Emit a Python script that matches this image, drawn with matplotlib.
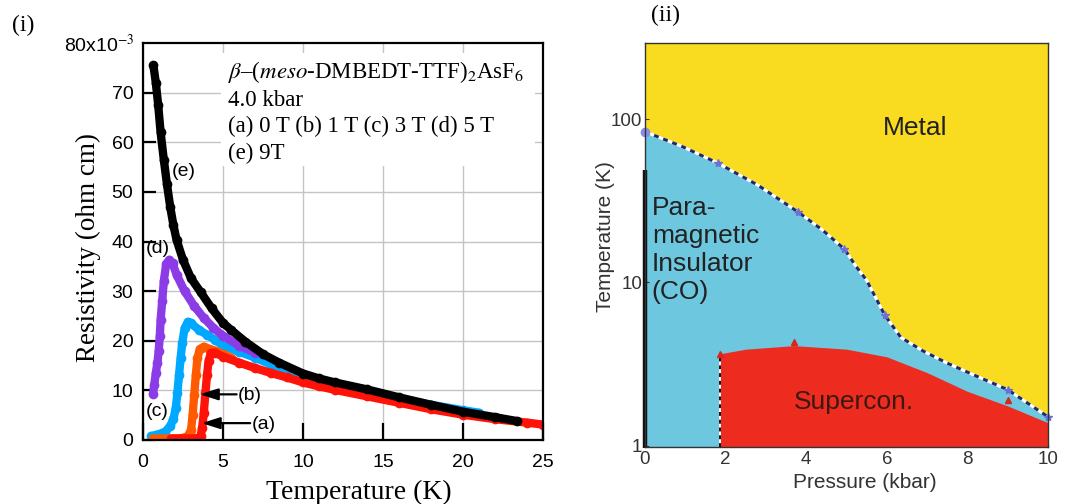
import matplotlib
matplotlib.use("Agg")
import matplotlib.pyplot as plt
from matplotlib.patches import Rectangle
import numpy as np

plt.rcParams['mathtext.fontset'] = 'stix'

# ---------------- Panel (i) data: resistivity vs temperature ----------------
T_a = [1.75, 2.3, 2.7, 3.1, 3.45, 3.6, 3.7, 3.8, 3.9, 4.0, 4.1, 4.25, 4.5, 5.0, 6.0, 7.0, 8.0,
       9.0, 10, 11, 12, 14, 16, 18, 20, 22, 24, 25]
R_a = [0.3, 0.3, 0.3, 0.3, 0.4, 0.8, 2.5, 5.5, 9.5, 13.0, 16.0, 17.5, 17.6, 16.8, 15.6, 14.5, 13.5,
       12.6, 11.6, 10.8, 10.1, 8.8, 7.5, 6.2, 5.1, 4.2, 3.5, 3.1]

T_b = [0.6, 1.0, 1.5, 2.0, 2.5, 2.8, 3.0, 3.1, 3.2, 3.3, 3.4, 3.55, 3.8, 4.1, 4.5, 5.0, 5.5]
R_b = [0.3, 0.3, 0.3, 0.3, 0.4, 0.8, 2.0, 5.0, 9.0, 13.0, 16.5, 18.3, 18.8, 18.4, 18.0, 17.3, 16.6]

T_c = [0.5, 0.8, 1.1, 1.4, 1.7, 1.9, 2.05, 2.15, 2.25, 2.35, 2.45, 2.6, 2.8, 3.0, 3.5, 4.0,
       4.5, 5.0, 6.0, 7.0, 8.0, 10, 12, 14, 16, 18, 20, 21]
R_c = [0.8, 1.0, 1.3, 1.7, 2.8, 4.2, 6.5, 9.5, 13.0, 16.5, 19.5, 22.5, 23.8, 23.5, 22.2, 21.2,
       20.2, 19.0, 17.8, 16.6, 15.2, 13.1, 11.3, 9.9, 8.3, 7.1, 6.0, 5.5]

T_d = [0.62, 0.7, 0.8, 0.9, 0.98, 1.05, 1.1, 1.2, 1.3, 1.45, 1.65, 1.85, 2.1, 2.6, 3.2, 3.8,
       4.4, 5.0, 6.0, 7.0]
R_d = [9.3, 11.0, 13.5, 15.5, 18.0, 21.0, 24.2, 28.0, 32.0, 35.5, 36.3, 35.6, 33.3, 30.0, 27.0,
       24.6, 22.6, 21.0, 19.0, 17.6]

T_e = [0.65, 0.8, 0.95, 1.1, 1.3, 1.5, 1.7, 1.9, 2.1, 2.5, 3.0, 3.6, 4.3, 5.0, 5.5, 6.4, 7.5,
       8.5, 10, 11, 12, 14, 16, 18, 20, 22, 23.4]
R_e = [75.5, 72.0, 67.5, 62.0, 56.5, 51.5, 47.0, 43.3, 40.3, 36.3, 32.6, 29.8, 26.5, 23.6, 22.2,
       19.8, 17.3, 15.6, 13.4, 12.4, 11.6, 10.2, 8.6, 7.1, 5.7, 4.6, 3.8]

x_ticks_i = [0, 5, 10, 15, 20, 25]
y_ticks_i = [0, 10, 20, 30, 40, 50, 60, 70]

# ---------------- Panel (ii) data: phase diagram ----------------
P_mi = [0, 0.93, 1.8, 2.8, 3.8, 4.4, 4.95, 5.24, 5.5, 5.95, 6.35, 6.9, 7.5, 8.1, 9.0, 10.0]
T_mi = [84, 68, 54, 39.5, 27, 21, 16, 12.5, 10.3, 6.3, 4.6, 3.8, 3.2, 2.75, 2.2, 1.5]

P_sc = [1.85, 2.5, 3.7, 5.0, 6.0, 7.0, 8.0, 9.0, 10.0]
T_sc = [3.65, 3.9, 4.1, 3.9, 3.5, 2.8, 2.15, 1.75, 1.38]

P_mi_pts = [1.8, 3.8, 4.95, 5.95, 9.0, 10.0]
T_mi_pts = [54, 27, 16, 6.3, 2.2, 1.5]
P_sc_pts = [1.85, 3.7, 9.0]
T_sc_pts = [3.65, 4.3, 1.9]
P_co_bar = [0, 0]
T_co_bar = [0.97, 49]
x_ticks_ii = [0, 2, 4, 6, 8, 10]
y_ticks_ii = [1, 10, 100]

SERIF = 'Liberation Serif'
SANS = 'Liberation Sans'

fig = plt.figure(figsize=(10.67, 5.04), dpi=100)

# ======================= Panel (i) =======================
W, H = 1067.0, 504.0
ax1 = fig.add_axes([143 / W, 1 - 440 / H, 400 / W, 397 / H])
ax1.set_xlim(0, 25)
ax1.set_ylim(0, 80)
ax1.set_xticks(x_ticks_i)
ax1.set_yticks(y_ticks_i)
ax1.grid(True, color='#c4c4c4', lw=1.0, zorder=0)
ax1.set_axisbelow(True)
for s in ax1.spines.values():
    s.set_linewidth(1.6)
    s.set_zorder(10)
ax1.tick_params(axis='x', direction='in', length=12, width=1.6, pad=10, labelsize=14)
ax1.tick_params(axis='y', direction='in', length=9, width=1.6, pad=7, labelsize=14)
for lab in ax1.get_xticklabels() + ax1.get_yticklabels():
    lab.set_fontfamily(SANS)

# white box behind the legend text
ax1.add_patch(Rectangle((0.195, 0.69), 0.785, 0.285, transform=ax1.transAxes,
                        facecolor='white', edgecolor='none', zorder=1))

lw, ms = 6, 7
kw = dict(lw=lw, ms=ms, mew=0, solid_capstyle='round', solid_joinstyle='round')
ax1.plot(T_c, R_c, '-o', color='#00a8ff', zorder=3, **kw)
ax1.plot(T_d, R_d, '-o', color='#8c3ce6', zorder=3, **kw)
ax1.plot(T_b, R_b, '-o', color='#ff5a00', zorder=4, **kw)
ax1.plot(T_a, R_a, '-o', color='#ff1208', zorder=5, **kw)
ax1.plot(T_e, R_e, '-o', color='black', zorder=6, **kw)

fs_leg = 16.5
ax1.text(5.3, 74.2, r'$\beta$–($\mathit{meso}$-DMBEDT-TTF)$_2$AsF$_6$', fontfamily=SERIF,
         fontsize=fs_leg, va='center', ha='left', zorder=7)
ax1.text(5.3, 68.5, '4.0 kbar', fontfamily=SERIF, fontsize=fs_leg, va='center', ha='left', zorder=7)
ax1.text(5.3, 63.1, '(a) 0 T (b) 1 T (c) 3 T (d) 5 T', fontfamily=SERIF, fontsize=fs_leg,
         va='center', ha='left', zorder=7)
ax1.text(5.3, 57.8, '(e) 9T', fontfamily=SERIF, fontsize=fs_leg, va='center', ha='left', zorder=7)

ann_fs = 14
ax1.text(2.55, 54.1, '(e)', fontfamily=SANS, fontsize=ann_fs, ha='center', va='center', zorder=8)
ax1.text(0.9, 38.6, '(d)', fontfamily=SANS, fontsize=ann_fs, ha='center', va='center', zorder=8)
ax1.text(0.9, 5.7, '(c)', fontfamily=SANS, fontsize=ann_fs, ha='center', va='center', zorder=8)
ax1.annotate('', xy=(3.55, 9.2), xytext=(5.85, 9.2),
             arrowprops=dict(arrowstyle='-|>,head_length=1.1,head_width=0.35', lw=1.6,
                             color='black', shrinkA=0, shrinkB=0), zorder=8)
ax1.text(5.9, 9.0, '(b)', fontfamily=SANS, fontsize=ann_fs, ha='left', va='center', zorder=8)
ax1.annotate('', xy=(3.67, 3.4), xytext=(6.7, 3.4),
             arrowprops=dict(arrowstyle='-|>,head_length=1.1,head_width=0.35', lw=1.6,
                             color='black', shrinkA=0, shrinkB=0), zorder=8)
ax1.text(6.8, 3.2, '(a)', fontfamily=SANS, fontsize=ann_fs, ha='left', va='center', zorder=8)

ax1.text(-0.02, 80, r'80x10$^{-3}$', transform=ax1.get_yaxis_transform(), fontfamily=SANS,
         fontsize=14, ha='right', va='center_baseline')

ax1.set_xlabel('Temperature (K)', fontfamily=SERIF, fontsize=20)
ax1.xaxis.label.set_va('center')
ax1.xaxis.set_label_coords(0.54, -0.131)
ax1.set_ylabel('Resistivity (ohm cm)', fontfamily=SERIF, fontsize=19.5)
ax1.yaxis.label.set_va('center')
ax1.yaxis.set_label_coords(-0.1375, 0.484)

fig.text(23 / W, 1 - 25 / H, '(i)', fontfamily=SERIF, fontsize=17, ha='center', va='center')

# ======================= Panel (ii) =======================
ax2 = fig.add_axes([645 / W, 1 - 447.3 / H, 403 / W, 404.6 / H])
ax2.set_yscale('log')
ax2.set_xlim(0, 10)
ax2.set_ylim(0.976, 295)
ax2.set_facecolor('#f9dc1f')
ax2.fill_between(P_mi, 0.5, T_mi, color='#6dc7df', lw=0, zorder=1)
ax2.fill_between(P_sc, 0.5, T_sc, color='#ee2b1f', lw=0, zorder=2)

ax2.plot(P_mi, T_mi, color='white', lw=2.2, zorder=3)
ax2.plot(P_mi, T_mi, color='#1f2a6e', lw=2.2, ls=(0, (1.6, 1.6)), zorder=4)
ax2.plot([P_sc[0], P_sc[0]], [0.976, T_sc[0]], color='white', lw=1.4, zorder=3)
ax2.plot([P_sc[0], P_sc[0]], [0.976, T_sc[0]], color='#111111', lw=1.4, ls=(0, (2, 2)), zorder=4)
ax2.plot(P_co_bar, T_co_bar, color='#111111', lw=3.2, solid_capstyle='butt', zorder=5,
         clip_on=False)
ax2.plot([P_mi[0]], [T_mi[0]], 'o', color='#8a8ee0', ms=6, zorder=6, clip_on=False)
ax2.plot(P_mi_pts, T_mi_pts, '*', color='#6c70d8', ms=6, zorder=6, clip_on=False)
ax2.plot(P_sc_pts, T_sc_pts, '^', color='#d8261c', ms=5, zorder=6, clip_on=False)

ax2.set_xticks(x_ticks_ii)
ax2.set_yticks(y_ticks_ii)
ax2.set_yticklabels([str(v) for v in y_ticks_ii])
ax2.yaxis.set_minor_locator(matplotlib.ticker.NullLocator())
for s in ax2.spines.values():
    s.set_linewidth(1.0)
    s.set_color('#333333')
    s.set_zorder(10)
ax2.tick_params(axis='both', direction='in', length=3, width=0.8, colors='#333333',
                labelcolor='#333333', labelsize=13.5)
ax2.tick_params(axis='x', pad=3)
ax2.tick_params(axis='y', pad=2)
for lab in ax2.get_xticklabels() + ax2.get_yticklabels():
    lab.set_fontfamily(SANS)

ax2.text(6.7, 88.4, 'Metal', fontfamily=SANS, fontsize=19, color='#222222',
         ha='center', va='center', zorder=7)
ax2.text(0.17, 15.8, 'Para-\nmagnetic\nInsulator\n(CO)', fontfamily=SANS, fontsize=19,
         color='#222222', ha='left', va='center', ma='left', zorder=7)
ax2.text(5.19, 1.85, 'Supercon.', fontfamily=SANS, fontsize=19, color='#3a1a10',
         ha='center', va='center', zorder=7)

ax2.set_xlabel('Pressure (kbar)', fontfamily=SANS, fontsize=15, color='#333333')
ax2.xaxis.label.set_va('center')
ax2.xaxis.set_label_coords(0.546, -0.086)
ax2.set_ylabel('Temperature (K)', fontfamily=SANS, fontsize=15, color='#333333')
ax2.yaxis.label.set_va('center')
ax2.yaxis.set_label_coords(-0.099, 0.52)

fig.text(665 / W, 1 - 15 / H, '(ii)', fontfamily=SERIF, fontsize=17, ha='center', va='center')

fig.savefig('out.png', dpi=100)
